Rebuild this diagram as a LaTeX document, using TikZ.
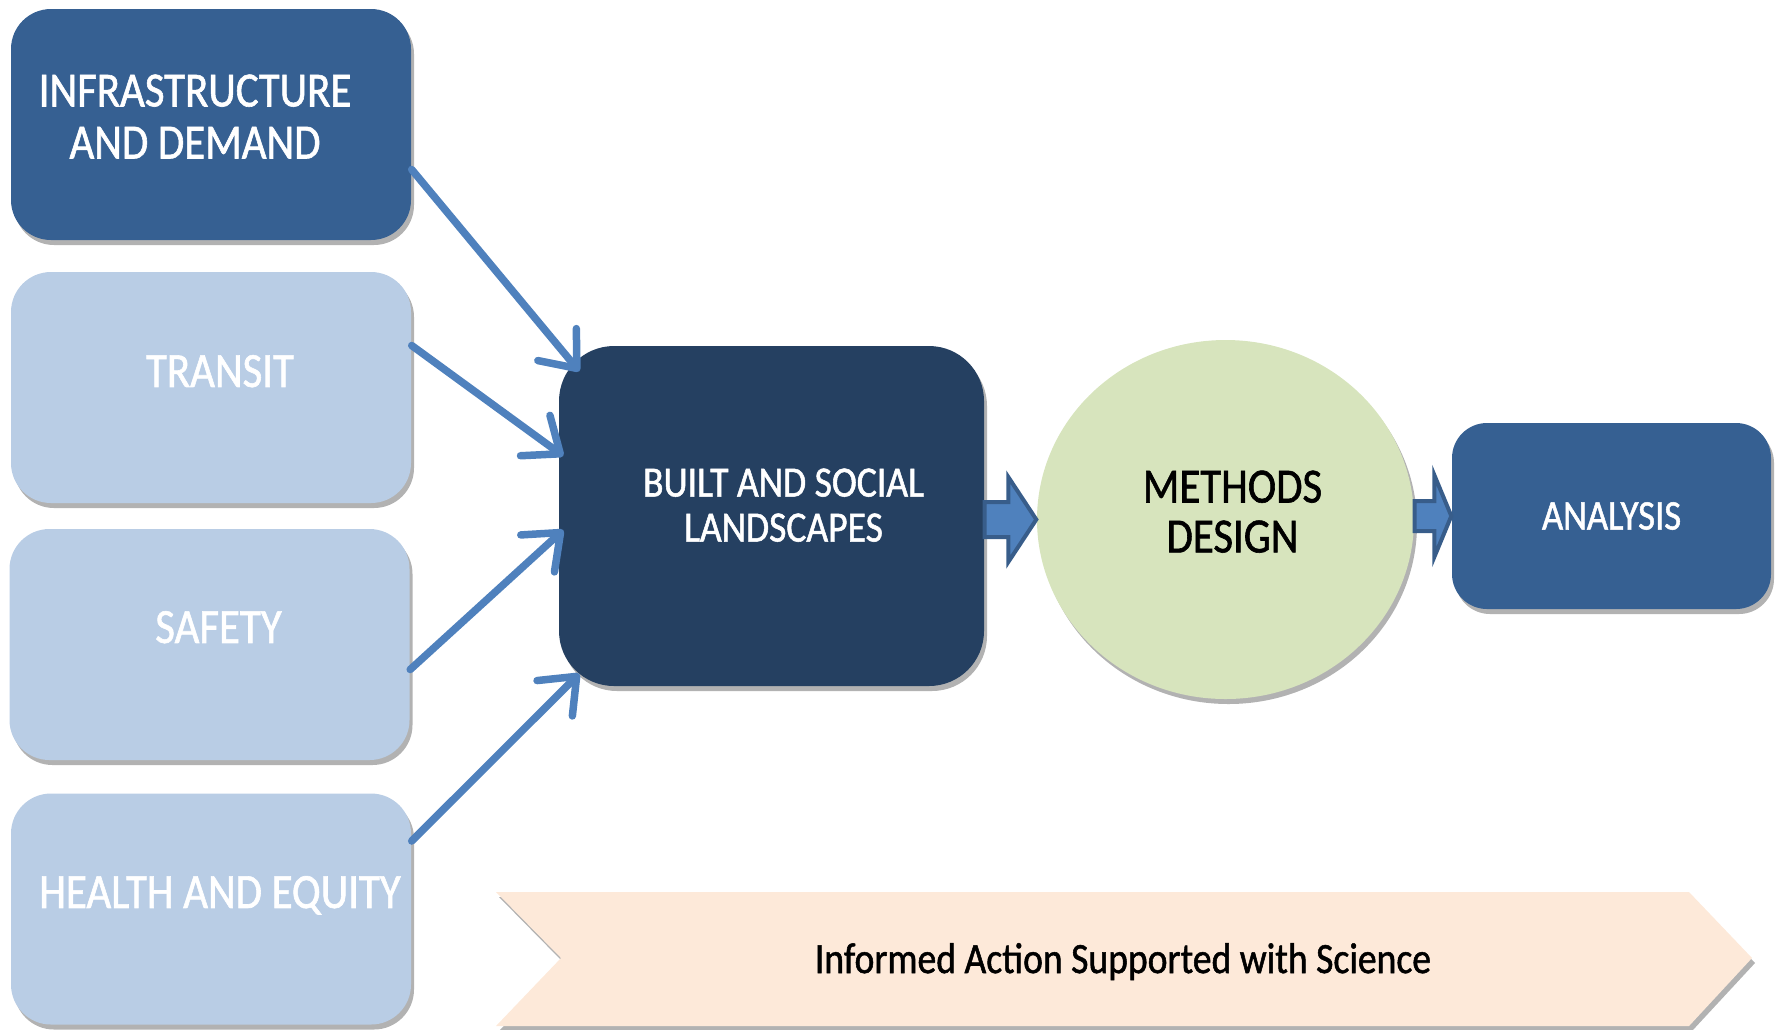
\documentclass[tikz,border=0pt]{standalone}
\usepackage{fontspec}
\setmainfont{Carlito}[FakeStretch=0.87,UprightFeatures={FakeBold=1.2}]
\usetikzlibrary{arrows.meta,calc,shapes.geometric,shadows}
\definecolor{infrablue}{HTML}{366092}
\definecolor{paleblue}{HTML}{B9CDE5}
\definecolor{navyblue}{HTML}{254061}
\definecolor{sagegreen}{HTML}{D7E4BD}
\definecolor{peach}{HTML}{FDE9D9}
\definecolor{arrowblue}{HTML}{4F81BD}
\definecolor{arrowedge}{HTML}{385D8A}

\begin{document}
\begin{tikzpicture}[x=0.1mm,y=-0.1mm,
    boxshadow/.style={drop shadow={shadow xshift=0.3mm,shadow yshift=-0.5mm,opacity=0.3,fill=black}},
    themebox/.style={rectangle,rounded corners=4mm,inner sep=0pt,minimum width=40mm,minimum height=23.1mm,
        align=center,text=white,boxshadow,font=\fontsize{14}{14.8}\selectfont},
    textlift/.style={text depth=#1},
    feeder/.style={draw=arrowblue,line width=0.75mm,line cap=round,-{Straight Barb[length=3.1mm,width=5mm,round]}},
    blockarrow/.style={fill=arrowblue,draw=arrowedge,line width=0.4mm,line join=miter}]
    \useasboundingbox (0,0) rectangle (1777,1029);

    % input themes on the left
    \node[themebox,fill=infrablue,textlift=1.6mm] (infra) at (211,124.5)
        {INFRASTRUCTURE\hspace*{3.2mm}\\AND DEMAND\hspace*{3.2mm}};
    \node[themebox,fill=paleblue,textlift=3.3mm] (transit) at (211,387.5) {\hspace*{1.8mm}TRANSIT};
    \node[themebox,fill=paleblue,textlift=3.5mm] (safety) at (209.5,644.5) {\hspace*{1.8mm}SAFETY};
    \node[themebox,fill=paleblue,textlift=3.4mm] (health) at (211,909) {\hspace*{1.8mm}HEALTH AND EQUITY};

    % main chain
    \node[themebox,fill=navyblue,rounded corners=5.5mm,minimum width=42.5mm,minimum height=34mm,
        textlift=2.2mm,font=\fontsize{12.3}{12.8}\selectfont] (built) at (771.5,516)
        {\hspace*{2.4mm}BUILT AND SOCIAL\\\hspace*{2.4mm}LANDSCAPES};
    \node[ellipse,fill=sagegreen,boxshadow,inner sep=0pt,minimum width=37.7mm,minimum height=35.9mm,
        align=center,text depth=1.6mm,font=\fontsize{14}{14.2}\selectfont] (methods) at (1225.5,519.5)
        {\hspace*{1.4mm}METHODS\\\hspace*{1.4mm}DESIGN};
    \node[themebox,fill=infrablue,rounded corners=3.5mm,minimum width=31.9mm,minimum height=18.6mm,
        font=\fontsize{12}{14}\selectfont] (analysis) at (1611.5,516) {ANALYSIS};

    \draw[feeder] ([yshift=-4.5mm]infra.east) -- ([shift={(2.1mm,-2.6mm)}]built.north west);
    \draw[feeder] ([yshift=4.2mm]transit.east) -- ([shift={(0.5mm,6mm)}]built.west);
    \draw[feeder] ([yshift=-2.5mm]safety.east) -- ([shift={(0.5mm,-1.4mm)}]built.west);
    \draw[feeder] ([yshift=6.8mm]health.east) -- ([shift={(2.1mm,1.3mm)}]built.south west);

    \draw[blockarrow] (methods.west) -- ([shift={(-2.8mm,4.25mm)}]methods.west)
        -- ([shift={(-2.8mm,1.75mm)}]methods.west) -- ($(built.east |- methods.west)+(0,1.75mm)$)
        -- ($(built.east |- methods.west)+(0,-1.75mm)$) -- ([shift={(-2.8mm,-1.75mm)}]methods.west)
        -- ([shift={(-2.8mm,-4.25mm)}]methods.west) -- cycle;
    \draw[blockarrow] (analysis.west) -- ([shift={(-1.7mm,4.1mm)}]analysis.west)
        -- ([shift={(-1.7mm,1.5mm)}]analysis.west) -- ($(methods.east |- analysis.west)+(0,1.5mm)$)
        -- ($(methods.east |- analysis.west)+(0,-1.5mm)$) -- ([shift={(-1.7mm,-1.5mm)}]analysis.west)
        -- ([shift={(-1.7mm,-4.1mm)}]analysis.west) -- cycle;

    % banner
    \fill[peach,boxshadow] (496,892) -- (1689,892) -- (1752,958) -- (1689,1026) -- (496,1026) -- (561,958) -- cycle;
    \node[font=\fontsize{12.3}{14}\selectfont] (action) at (1123,961.5) {Informed Action Supported with Science};
\end{tikzpicture}
\end{document}
